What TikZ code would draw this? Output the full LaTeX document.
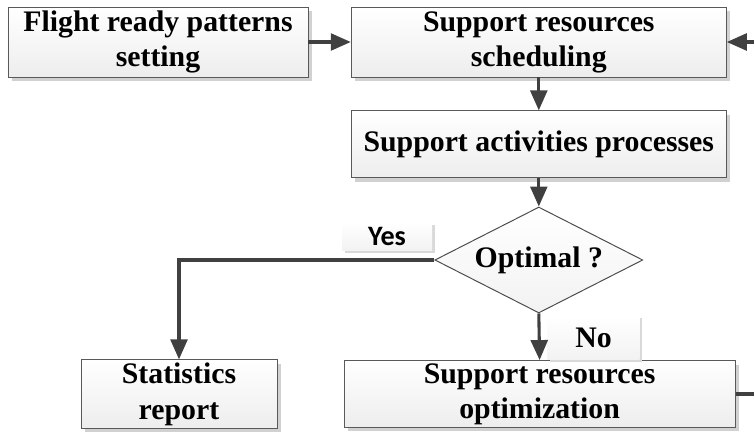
\documentclass[tikz,border=0pt]{standalone}
\usepackage{fontspec}
\setmainfont{Liberation Serif}
\newfontfamily\tagfont{Carlito}
\usetikzlibrary{shapes.geometric,shadows,arrows.meta}

\begin{document}
\begin{tikzpicture}[
  font=\fontsize{21.2}{25}\selectfont\bfseries,
  box/.style={draw=black!65, line width=0.7pt, align=center, inner sep=2pt,
    top color=white, bottom color=black!7,
    drop shadow={shadow xshift=0.1cm, shadow yshift=-0.1cm, fill=black!18, opacity=1}},
  test/.style={diamond, draw=black!70, line width=0.7pt, aspect=2, inner sep=0pt,
    top color=white, bottom color=black!5, minimum width=5.2cm, minimum height=2.65cm},
  tag/.style={inner sep=0pt, top color=white, bottom color=black!5,
    drop shadow={shadow xshift=0.07cm, shadow yshift=-0.07cm, fill=black!15, opacity=1}},
  flow/.style={draw=black!75, line width=2.2pt, -{Triangle[length=0.5cm,width=0.42cm]}},
]
\useasboundingbox (0,0) rectangle (18.85,-10.8);
\clip (0,0) rectangle (18.85,-10.8);

% ---------------- top row ----------------
\node[box, minimum width=7.5cm, minimum height=1.75cm]   (ready) at ( 3.95,-1.05)
  {Flight ready patterns\\setting};
\node[box, minimum width=9.375cm, minimum height=1.75cm] (sched) at (13.47,-1.05)
  {Support resources\\scheduling};

% ---------------- main column ----------------
\node[box, minimum width=9.375cm, minimum height=1.675cm] (proc) at (13.47,-3.61)
  {Support activities processes};
\node[test] (optimal) at (13.47,-6.5) {Optimal ?};

\node[box, minimum width=4.9cm, minimum height=1.725cm]   (stats) at ( 4.475,-9.86)
  {Statistics\\report};
\node[box, minimum width=9.775cm, minimum height=1.65cm]  (optim) at (13.49,-9.85)
  {Support resources\\optimization};

% branch labels
\node[tag, minimum width=2.25cm, minimum height=0.7cm] (yes) at (9.675,-5.9)
  {\tagfont\fontsize{20}{22}\selectfont\bfseries Yes};
\node[tag, minimum width=2.3cm, minimum height=1.1cm] (no) at (14.84,-8.44) {No};

% ---------------- connectors ----------------
\draw[flow] (ready) -- (sched);
\draw[flow] (sched) -- (proc);
\draw[flow] (proc)  -- (optimal);
\draw[flow] (optimal.west) -| (stats.north);
\draw[flow] (optimal.south) -- (optim.north);

% back to scheduling, runs past the right edge
\draw[flow] (optim.east) -- ++(1.0,0) |- (sched.east);

\end{tikzpicture}
\end{document}
